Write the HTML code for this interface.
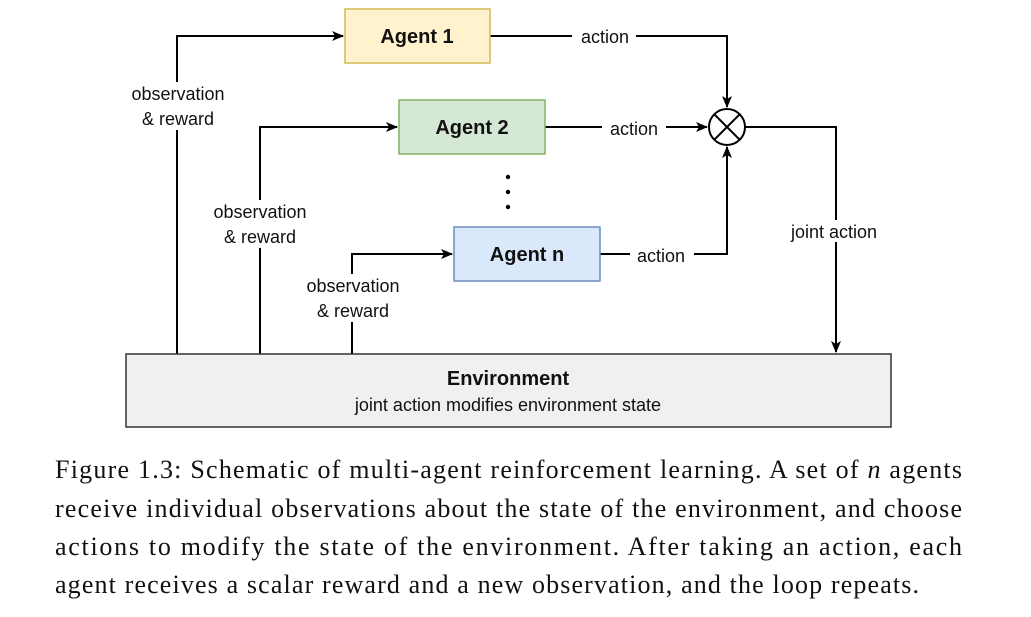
<!DOCTYPE html>
<html><head><meta charset="utf-8"><style>
html,body{margin:0;padding:0;background:#fff;}
svg{display:block;}
.s{font-family:"Liberation Sans",sans-serif;font-size:18px;fill:#111;}
.b{font-family:"Liberation Sans",sans-serif;font-size:20px;font-weight:bold;fill:#111;}
.c{font-family:"Liberation Serif",serif;font-size:26px;fill:#111;}
</style></head><body>
<svg width="1031" height="617" viewBox="0 0 1031 617" xmlns="http://www.w3.org/2000/svg">
<defs><marker id="a" markerWidth="12" markerHeight="10" refX="11" refY="5" orient="auto" markerUnits="userSpaceOnUse"><path d="M0,0 L12,5 L0,10 L3,5 Z" fill="#000"/></marker></defs>
<g stroke="#000" stroke-width="2" fill="none">
<polyline points="177,354 177,36 343,36" marker-end="url(#a)"/>
<polyline points="260,354 260,127 397,127" marker-end="url(#a)"/>
<polyline points="352,354 352,254 452,254" marker-end="url(#a)"/>
<polyline points="490,36 727,36 727,107" marker-end="url(#a)"/>
<polyline points="545,127 707,127" marker-end="url(#a)"/>
<polyline points="600,254 727,254 727,147" marker-end="url(#a)"/>
<polyline points="745,127 836,127 836,352" marker-end="url(#a)"/>
</g>
<rect x="345" y="9" width="145" height="54" fill="#fff2cc" stroke="#d6b656" stroke-width="1.5"/>
<rect x="399" y="100" width="146" height="54" fill="#d5e8d4" stroke="#82b366" stroke-width="1.5"/>
<rect x="454" y="227" width="146" height="54" fill="#dae8fc" stroke="#6c8ebf" stroke-width="1.5"/>
<rect x="126" y="354" width="765" height="73" fill="#f0f0f0" stroke="#333" stroke-width="1.5"/>
<circle cx="727" cy="127" r="18" fill="#fff" stroke="#000" stroke-width="2"/>
<path d="M714,114 L740,140 M740,114 L714,140" stroke="#000" stroke-width="2"/>
<circle cx="508" cy="177" r="2.2" fill="#000"/><circle cx="508" cy="192" r="2.2" fill="#000"/><circle cx="508" cy="207" r="2.2" fill="#000"/>
<text class="b" x="417" y="43" text-anchor="middle">Agent 1</text>
<text class="b" x="472" y="134" text-anchor="middle">Agent 2</text>
<text class="b" x="527" y="261" text-anchor="middle">Agent n</text>
<text class="b" x="508" y="385" text-anchor="middle">Environment</text>
<text class="s" x="508" y="411" text-anchor="middle">joint action modifies environment state</text>
<g>
<rect x="572" y="26" width="64" height="20" fill="#fff"/><text class="s" x="605" y="43" text-anchor="middle">action</text>
<rect x="602" y="117" width="64" height="20" fill="#fff"/><text class="s" x="634" y="135" text-anchor="middle">action</text>
<rect x="630" y="244" width="64" height="20" fill="#fff"/><text class="s" x="661" y="262" text-anchor="middle">action</text>
<rect x="782" y="220" width="104" height="22" fill="#fff"/><text class="s" x="834" y="238" text-anchor="middle">joint action</text>
<rect x="124" y="82" width="108" height="48" fill="#fff"/><text class="s" x="178" y="100" text-anchor="middle">observation</text><text class="s" x="178" y="125" text-anchor="middle">&amp; reward</text>
<rect x="206" y="200" width="108" height="48" fill="#fff"/><text class="s" x="260" y="218" text-anchor="middle">observation</text><text class="s" x="260" y="243" text-anchor="middle">&amp; reward</text>
<rect x="298" y="274" width="108" height="48" fill="#fff"/><text class="s" x="353" y="292" text-anchor="middle">observation</text><text class="s" x="353" y="317" text-anchor="middle">&amp; reward</text>
</g>
<text class="c" x="55" y="478" textLength="907" lengthAdjust="spacing">Figure 1.3: Schematic of multi-agent reinforcement learning. A set of <tspan font-style="italic">n</tspan> agents</text>
<text class="c" x="55" y="517" textLength="907" lengthAdjust="spacing">receive individual observations about the state of the environment, and choose</text>
<text class="c" x="55" y="555" textLength="907" lengthAdjust="spacing">actions to modify the state of the environment. After taking an action, each</text>
<text class="c" x="55" y="593" textLength="864" lengthAdjust="spacing">agent receives a scalar reward and a new observation, and the loop repeats.</text>
</svg>
</body></html>
